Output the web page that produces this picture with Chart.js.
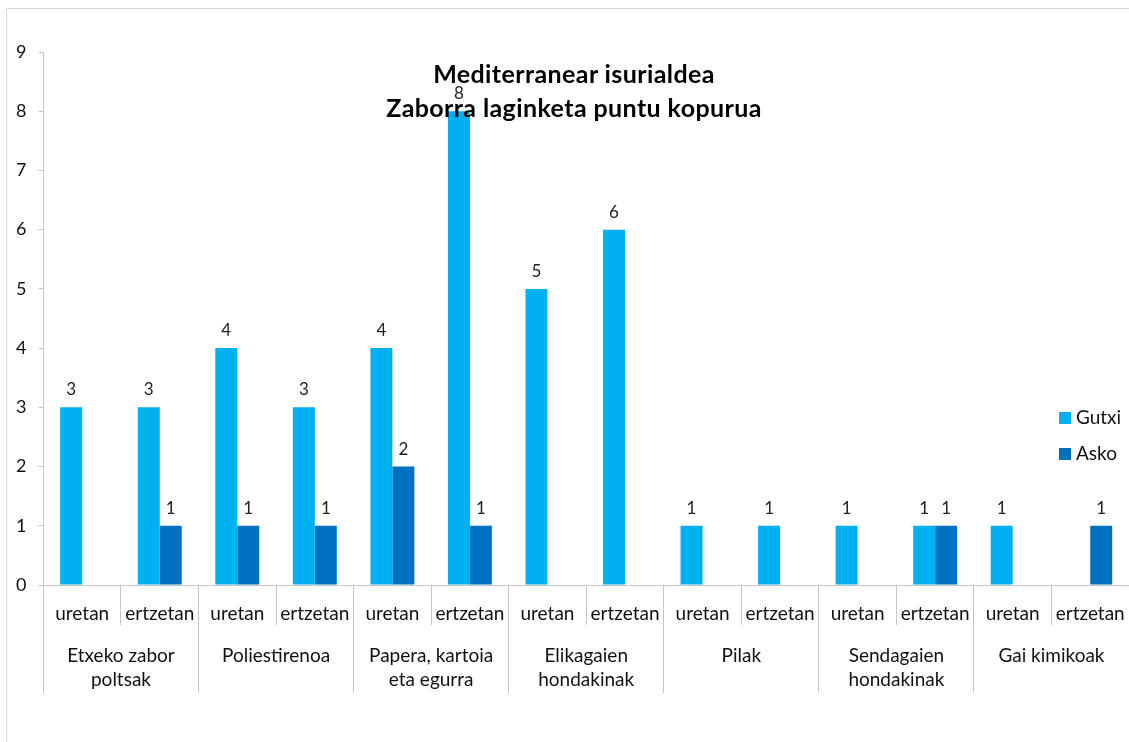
<!DOCTYPE html>
<html>
<head>
<meta charset="utf-8">
<script src="https://cdn.jsdelivr.net/npm/chart.js@4.4.1/dist/chart.umd.min.js"></script>
<style>
  html, body { margin: 0; padding: 0; width: 1129px; height: 742px; overflow: hidden; background: #fff; font-family: Lato, "Open Sans", sans-serif; }
  #frame { position: absolute; left: 6px; top: 8px; width: 1200px; height: 800px; border: 1px solid #d9d9d9; box-sizing: border-box; }
  #wrap { position: absolute; left: 0; top: 0; width: 1129px; height: 742px; }
  .title { position: absolute; left: 274px; width: 600px; text-align: center; font-weight: bold; font-size: 25px; letter-spacing: 0.4px; color: #000; white-space: nowrap; line-height: 30px; }
  .legend { position: absolute; left: 1059px; font-size: 19px; color: #111; white-space: nowrap; line-height: 24px; }
  .legend span.sw { display: inline-block; width: 12px; height: 12px; margin-right: 5px; vertical-align: 0px; }
</style>
</head>
<body>
<div id="frame"></div>
<div id="wrap"><canvas id="c" width="1129" height="742"></canvas></div>
<div class="title" style="top:58px;">Mediterranear isurialdea</div>
<div class="title" style="top:92px;">Zaborra laginketa puntu kopurua</div>
<div class="legend" style="top:405px;"><span class="sw" style="background:#00B0F0"></span>Gutxi</div>
<div class="legend" style="top:441px;"><span class="sw" style="background:#0070C0"></span>Asko</div>
<script>
const subLabels = ['uretan','ertzetan','uretan','ertzetan','uretan','ertzetan','uretan','ertzetan','uretan','ertzetan','uretan','ertzetan','uretan','ertzetan'];
const groupLabels = [['Etxeko zabor','poltsak'], 'Poliestirenoa', ['Papera, kartoia','eta egurra'], ['Elikagaien','hondakinak'], 'Pilak', ['Sendagaien','hondakinak'], 'Gai kimikoak'];
const gutxi = [3, 3, 4, 3, 4, 8, 5, 6, 1, 1, 1, 1, 1, null];
const asko  = [null, 1, 1, 1, 2, 1, null, null, null, null, null, 1, null, 1];
const yTicks = [0,1,2,3,4,5,6,7,8,9];

const FONT = 'Lato, "Open Sans", sans-serif';
const AXIS = '#c6c6c6';
const TEXT = '#111111';

const valueLabels = {
  id: 'valueLabels',
  afterDatasetsDraw(chart) {
    const ctx = chart.ctx;
    ctx.save();
    ctx.font = '17px ' + FONT;
    ctx.fillStyle = '#222222';
    ctx.textAlign = 'center';
    ctx.textBaseline = 'alphabetic';
    chart.data.datasets.forEach((ds, i) => {
      const meta = chart.getDatasetMeta(i);
      meta.data.forEach((bar, j) => {
        const v = ds.data[j];
        if (v === null || v === undefined) return;
        ctx.fillText(String(v), bar.x, bar.y - 12);
      });
    });
    ctx.restore();
  }
};

new Chart(document.getElementById('c'), {
  type: 'bar',
  data: {
    labels: subLabels,
    datasets: [
      { label: 'Gutxi', data: gutxi, backgroundColor: '#00B0F0', xAxisID: 'x', yAxisID: 'y' },
      { label: 'Asko', data: asko, backgroundColor: '#0070C0', xAxisID: 'x', yAxisID: 'y' }
    ]
  },
  options: {
    responsive: false,
    animation: false,
    datasets: { bar: { barPercentage: 1.0, categoryPercentage: 0.567 } },
    layout: { padding: { top: 52, left: 4, right: 0, bottom: 50 } },
    plugins: { legend: { display: false }, title: { display: false }, tooltip: { enabled: false } },
    scales: {
      y: {
        min: 0, max: 9,
        afterBuildTicks(scale) { scale.ticks = yTicks.map(v => ({ value: v })); },
        ticks: { stepSize: 1, padding: 12, color: TEXT, font: { family: FONT, size: 18 } },
        grid: { drawOnChartArea: false, tickLength: 5, color: AXIS },
        border: { color: AXIS }
      },
      x: {
        type: 'category',
        position: 'bottom',
        weight: 0,
        offset: true,
        afterFit(scale) { scale.height = 39; },
        ticks: { padding: -23, color: TEXT, font: { family: FONT, size: 19, lineHeight: 1.2 }, autoSkip: false, maxRotation: 0 },
        grid: { offset: true, drawOnChartArea: false, tickLength: 40, color: AXIS },
        border: { color: AXIS }
      },
      xg: {
        type: 'category',
        position: 'bottom',
        weight: 1,
        labels: groupLabels,
        offset: true,
        afterFit(scale) { scale.height = 68; },
        ticks: { padding: -49, color: TEXT, font: { family: FONT, size: 19, lineHeight: 1.27 }, autoSkip: false, maxRotation: 0 },
        grid: { offset: true, drawOnChartArea: false, tickLength: 69, color: AXIS },
        border: { display: false }
      }
    }
  },
  plugins: [valueLabels]
});
</script>
</body>
</html>
